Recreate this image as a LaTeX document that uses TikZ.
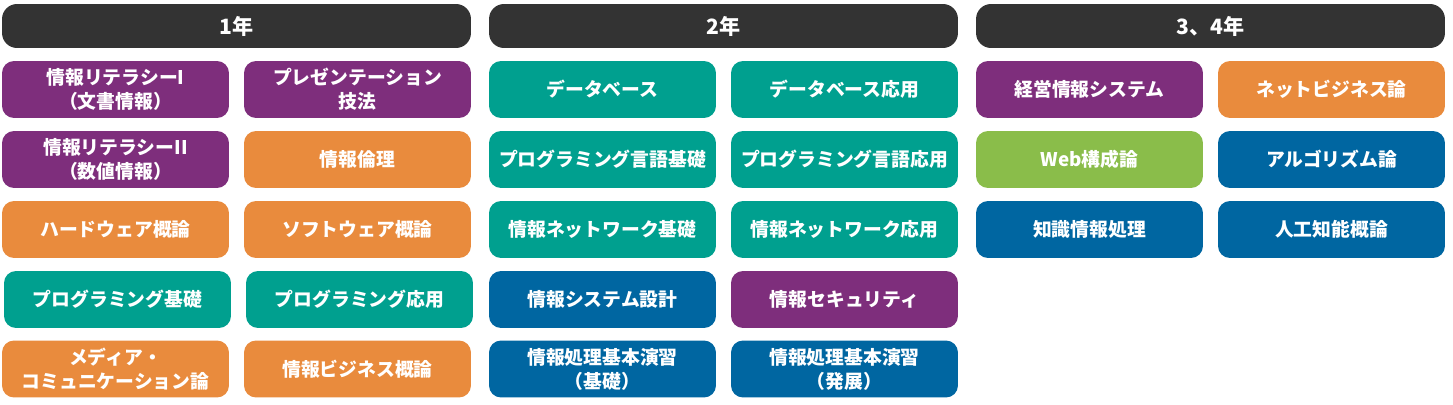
\documentclass[tikz,border=0pt]{standalone}
\usepackage{fontspec}
\setmainfont{Noto Sans CJK JP}

\definecolor{hdgray}{HTML}{333333}
\definecolor{kpurple}{HTML}{7E2E7C}
\definecolor{korange}{HTML}{E98B3D}
\definecolor{kteal}{HTML}{00A08F}
\definecolor{kblue}{HTML}{0066A1}
\definecolor{kgreen}{HTML}{8ABD4A}

\begin{document}
\begin{tikzpicture}[x=0.02cm,y=-0.02cm,
  yearbar/.style={rectangle,rounded corners=0.3cm,fill=hdgray,text=white,font=\bfseries\fontsize{12}{14}\selectfont,minimum width=9.38cm,minimum height=0.88cm,inner sep=0pt},
  subj/.style={rectangle,rounded corners=0.24cm,text=white,font=\bfseries\fontsize{10.7}{13.6}\selectfont,align=center,minimum width=4.54cm,minimum height=1.14cm,inner sep=0pt}]

\useasboundingbox (0,0) rectangle (1453,405);

% year headers
\node[yearbar] (Y1) at (236.5,26) {1年};
\node[yearbar] (Y2) at (723.5,26) {2年};
\node[yearbar] (Y3) at (1210.5,26) {3、4年};

% 1st year
\node[subj,fill=kpurple] (A11) at (115.5,89.5) {情報リテラシーI\\（文書情報）};
\node[subj,fill=kpurple] (A12) at (357.5,89.5) {プレゼンテーション\\技法};
\node[subj,fill=kpurple] (A21) at (115.5,159.5) {情報リテラシーII\\（数値情報）};
\node[subj,fill=korange] (A22) at (357.5,159.5) {情報倫理};
\node[subj,fill=korange] (A31) at (115.5,229.5) {ハードウェア概論};
\node[subj,fill=korange] (A32) at (357.5,229.5) {ソフトウェア概論};
\node[subj,fill=kteal] (A41) at (117.5,299.5) {プログラミング基礎};
\node[subj,fill=kteal] (A42) at (359.5,299.5) {プログラミング応用};
\node[subj,fill=korange] (A51) at (115.5,369) {メディア・\\コミュニケーション論};
\node[subj,fill=korange] (A52) at (357.5,369) {情報ビジネス概論};

% 2nd year
\node[subj,fill=kteal] (B11) at (602.5,89.5) {データベース};
\node[subj,fill=kteal] (B12) at (844.5,89.5) {データベース応用};
\node[subj,fill=kteal] (B21) at (602.5,159.5) {プログラミング言語基礎};
\node[subj,fill=kteal] (B22) at (844.5,159.5) {プログラミング言語応用};
\node[subj,fill=kteal] (B31) at (602.5,229.5) {情報ネットワーク基礎};
\node[subj,fill=kteal] (B32) at (844.5,229.5) {情報ネットワーク応用};
\node[subj,fill=kblue] (B41) at (602.5,299.5) {情報システム設計};
\node[subj,fill=kpurple] (B42) at (844.5,299.5) {情報セキュリティ};
\node[subj,fill=kblue] (B51) at (602.5,369) {情報処理基本演習\\（基礎）};
\node[subj,fill=kblue] (B52) at (844.5,369) {情報処理基本演習\\（発展）};

% 3rd and 4th year
\node[subj,fill=kpurple] (C11) at (1089.5,89.5) {経営情報システム};
\node[subj,fill=korange] (C12) at (1331.5,89.5) {ネットビジネス論};
\node[subj,fill=kgreen] (C21) at (1089.5,159.5) {Web構成論};
\node[subj,fill=kblue] (C22) at (1331.5,159.5) {アルゴリズム論};
\node[subj,fill=kblue] (C31) at (1089.5,229.5) {知識情報処理};
\node[subj,fill=kblue] (C32) at (1331.5,229.5) {人工知能概論};

\end{tikzpicture}
\end{document}
